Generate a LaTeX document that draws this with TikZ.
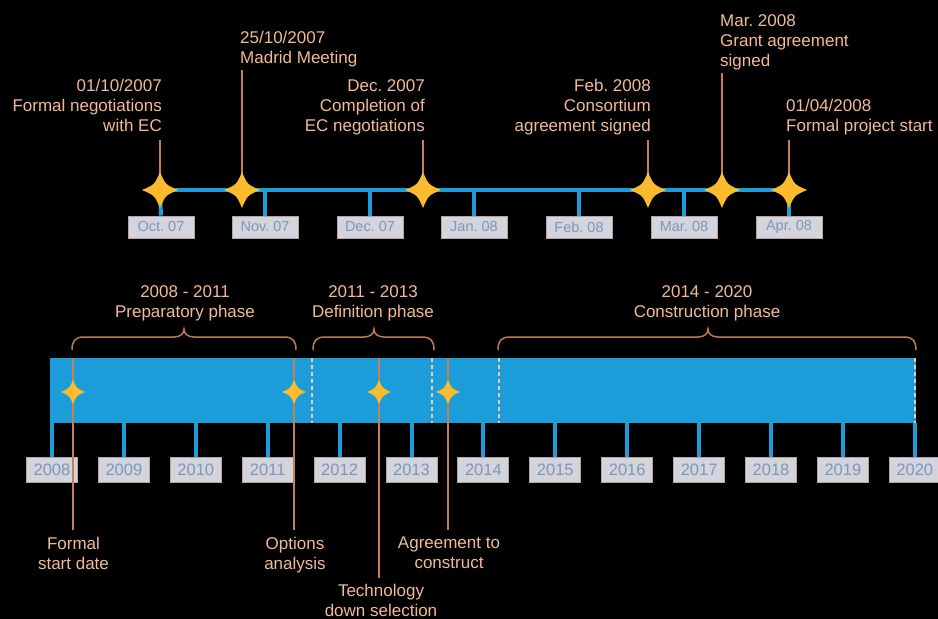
\documentclass[tikz,border=0pt]{standalone}
\usepackage{fontspec}
\setmainfont{Liberation Sans}
\frenchspacing
\definecolor{barblue}{RGB}{28,156,216}
\definecolor{msline}{RGB}{196,128,86}
\definecolor{labeltext}{RGB}{242,186,150}
\definecolor{bracecol}{RGB}{188,122,84}
\definecolor{dashcol}{RGB}{240,202,165}
\definecolor{boxfill}{RGB}{212,212,220}
\definecolor{boxedge}{RGB}{186,160,160}
\definecolor{boxtext}{RGB}{125,150,186}
\definecolor{sparkcol}{RGB}{250,188,45}

% curly bracket over a phase: left end, tip, right end
\newcommand\phasebrace[3]{%
  \draw[phasebracket] (#1,350) .. controls (#1,341) and (#1+3,337) .. (#1+12,337)
    -- (#2-10,337) .. controls (#2-4,337) and (#2,334) .. (#2,329)
    .. controls (#2,334) and (#2+4,337) .. (#2+10,337)
    -- (#3-12,337) .. controls (#3-3,337) and (#3,341) .. (#3,350);}

\begin{document}
\begin{tikzpicture}[x=1pt,y=-1pt,
  every node/.style={inner sep=0pt},
  lbl/.style={text=labeltext, font=\fontsize{17}{20}\selectfont},
  monthbox/.style={draw=boxedge, line width=1pt, fill=boxfill, text=boxtext,
    minimum width=66pt, minimum height=22pt, font=\fontsize{14.5}{16}\selectfont},
  yearbox/.style={draw=boxedge, line width=1pt, fill=boxfill, text=boxtext,
    minimum width=51pt, minimum height=25pt, font=\fontsize{16.5}{18}\selectfont},
  tick/.style={barblue, line width=4pt},
  milestone/.style={msline, line width=2pt},
  phasebracket/.style={bracecol, line width=1.5pt},
  phasedash/.style={dashcol, line width=1.5pt, dash pattern=on 4pt off 3pt},
  spark/.pic={\fill[sparkcol] ({#1},0) .. controls ({0.3*#1},{0.3*#1}) .. (0,{#1})
      .. controls ({-0.3*#1},{0.3*#1}) .. ({-#1},0)
      .. controls ({-0.3*#1},{-0.3*#1}) .. (0,{-#1})
      .. controls ({0.3*#1},{-0.3*#1}) .. cycle;}]

\fill[black] (0,0) rectangle (938,619);
\useasboundingbox (0,0) rectangle (938,619);

% ---------- negotiation timeline (Oct 2007 - Apr 2008) ----------
\coordinate (tl-start) at (160,190);
\coordinate (tl-end) at (789,190);
\draw[tick] (tl-start) -- (tl-end);

\foreach \m/\x in {oct/160,nov/265,dec/370,jan/474,feb/579,mar/684,apr/789}{
  \coordinate (mt-\m) at (\x,190);
}
\node[monthbox] (m-oct) at (161,227) {Oct. 07};
\node[monthbox] (m-nov) at (265,227) {Nov. 07};
\node[monthbox] (m-dec) at (370,227) {Dec. 07};
\node[monthbox] (m-jan) at (474,227) {Jan. 08};
\node[monthbox] (m-feb) at (579,227) {Feb. 08};
\node[monthbox] (m-mar) at (684,227) {Mar. 08};
\node[monthbox] (m-apr) at (789,227) {Apr. 08};
\foreach \m in {oct,nov,dec,jan,feb,mar,apr}{
  \draw[tick] (mt-\m) -- (m-\m.north);
}

% milestones of the negotiation phase
\coordinate (ts1) at (160,190);
\coordinate (ts2) at (242,190);
\coordinate (ts3) at (423,190);
\coordinate (ts4) at (648,190);
\coordinate (ts5) at (722,190);
\coordinate (ts6) at (789,190);

\node[lbl, align=right, anchor=north east] (tl1) at (162,79)
  {01/10/2007\\Formal negotiations\\with EC};
\node[lbl, align=left, anchor=north west] (tl2) at (240,31)
  {25/10/2007\\Madrid Meeting};
\node[lbl, align=right, anchor=north east] (tl3) at (425,79)
  {Dec. 2007\\Completion of\\EC negotiations};
\node[lbl, align=right, anchor=north east] (tl4) at (651,79)
  {Feb. 2008\\Consortium\\agreement signed};
\node[lbl, align=left, anchor=north west] (tl5) at (720,14)
  {Mar. 2008\\Grant agreement\\signed};
\node[lbl, align=left, anchor=north west] (tl6) at (786,99)
  {01/04/2008\\Formal project start};

\draw[milestone] (ts1) -- ++(0,-50);
\draw[milestone] (ts2) -- ++(0,-120);
\draw[milestone] (ts3) -- ++(0,-50);
\draw[milestone] (ts4) -- ++(0,-50);
\draw[milestone] (ts5) -- ++(0,-117);
\draw[milestone] (ts6) -- ++(0,-50);

\foreach \s in {ts1,ts2,ts3,ts4,ts5,ts6}{
  \pic at (\s) {spark=18};
}

% ---------- project phases (2008 - 2020) ----------
\node[fill=barblue, minimum width=866pt, minimum height=65pt, anchor=north west]
  (bar) at (50,358) {};

\draw[phasedash] (312,358) -- (312,423);
\draw[phasedash] (432,358) -- (432,423);
\draw[phasedash] (499,358) -- (499,423);
\draw[phasedash] (915,358) -- (915,423);

\foreach \yr [count=\i from 0] in {2008,...,2020}{
  \coordinate (yt-\yr) at ({52+71.9*\i},423);
  \node[yearbox] (y-\yr) at ({52+71.9*\i},469.5) {\yr};
  \draw[tick] (yt-\yr) -- (y-\yr.north);
}

% phase brackets and titles
\phasebrace{72}{184}{296}
\phasebrace{313}{374}{434}
\phasebrace{498}{708}{916}
\node[lbl, align=center, anchor=north] (ph1) at (185,285)
  {2008 - 2011\\Preparatory phase};
\node[lbl, align=center, anchor=north] (ph2) at (373,285)
  {2011 - 2013\\Definition phase};
\node[lbl, align=center, anchor=north] (ph3) at (707,285)
  {2014 - 2020\\Construction phase};

% milestones of the project phases
\coordinate (bs1) at (73,392);
\coordinate (bs2) at (294,392);
\coordinate (bs3) at (379,392);
\coordinate (bs4) at (448,392);

\node[lbl, align=center, anchor=north] (bl1) at (73.5,537) {Formal\\start date};
\node[lbl, align=center, anchor=north] (bl2) at (295,537) {Options\\analysis};
\node[lbl, align=center, anchor=north] (bl3) at (381,584) {Technology\\down selection};
\node[lbl, align=center, anchor=north] (bl4) at (449,537) {Agreement to\\construct};

\draw[milestone] (73,358) -- ([yshift=7pt]bl1.north -| bs1);
\draw[milestone] (294,358) -- ([yshift=7pt]bl2.north -| bs2);
\draw[milestone] (379,358) -- ([yshift=6pt]bl3.north -| bs3);
\draw[milestone] (448,358) -- ([yshift=7pt]bl4.north -| bs4);

\foreach \s in {bs1,bs2,bs3,bs4}{
  \pic at (\s) {spark=12};
}
\end{tikzpicture}
\end{document}
